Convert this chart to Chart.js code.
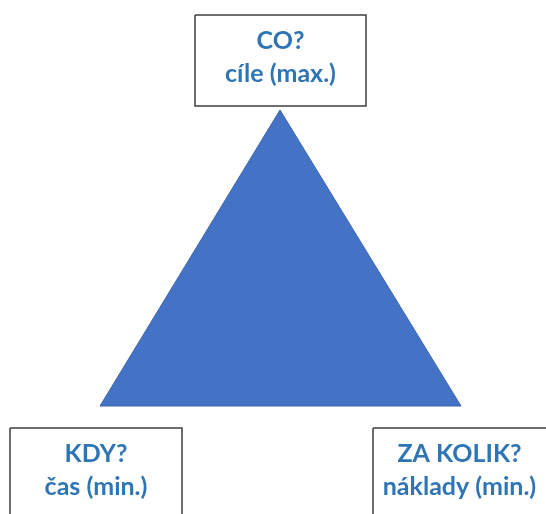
<!DOCTYPE html>
<html>
<head>
<meta charset="utf-8">
<script src="https://cdn.jsdelivr.net/npm/chart.js@4.4.0/dist/chart.umd.min.js"></script>
<style>
  body { margin: 0; background: #fff; }
  #wrap { width: 546px; height: 514px; }
</style>
</head>
<body>
<div id="wrap"><canvas id="trojimenik" width="546" height="514"></canvas></div>
<script>
// projektový trojúhelník - souřadnice v "prostoru" diagramu (0..546 x 0..514)
var triangleX = [100, 280, 461];
var triangleY = [406, 110, 406];

var boxTitles = ["CO?", "KDY?", "ZA KOLIK?"];
var boxSubtitles = ["cíle (max.)", "čas (min.)", "náklady (min.)"];
// rohy boxů: [levá, horní, pravá, dolní]
var boxLeft = [195, 10, 373];
var boxTop = [15, 428, 428];
var boxRight = [366, 182, 560];
var boxBottom = [106, 530, 530];

var textColor = "#2E75B6";

function closedPath(xs, ys) {
    var pts = xs.map(function (x, i) { return { x: x, y: ys[i] }; });
    pts.push(pts[0]);
    return pts;
}

var datasets = [{
    label: "trojúhelník",
    data: closedPath(triangleX, triangleY),
    backgroundColor: "#4472C4",
    borderColor: "#3A64AE",
    borderWidth: 1,
    fill: "shape",
    pointRadius: 0,
    tension: 0
}];

boxTitles.forEach(function (t, i) {
    datasets.push({
        label: t,
        data: closedPath(
            [boxLeft[i], boxRight[i], boxRight[i], boxLeft[i]],
            [boxTop[i], boxTop[i], boxBottom[i], boxBottom[i]]
        ),
        backgroundColor: "#ffffff",
        borderColor: "#3f3f3f",
        borderWidth: 1.5,
        fill: "shape",
        pointRadius: 0,
        tension: 0
    });
});

// popisky v boxech
var boxTexts = {
    id: "boxTexts",
    afterDatasetsDraw: function (chart) {
        var ctx = chart.ctx;
        var sx = chart.scales.x, sy = chart.scales.y;
        ctx.save();
        ctx.fillStyle = textColor;
        ctx.textAlign = "center";
        ctx.textBaseline = "middle";
        ctx.font = "bold 25px Lato";
        boxTitles.forEach(function (t, i) {
            var cx = sx.getPixelForValue((boxLeft[i] + Math.min(boxRight[i], 546)) / 2);
            var top = sy.getPixelForValue(boxTop[i]);
            ctx.fillText(t, cx, top + 26);
            ctx.fillText(boxSubtitles[i], cx, top + 59);
        });
        ctx.restore();
    }
};

var ctx = document.getElementById("trojimenik").getContext("2d");
var myChart = new Chart(ctx, {
    type: "line",
    data: { datasets: datasets },
    options: {
        responsive: false,
        animation: false,
        layout: { padding: 0 },
        scales: {
            x: { type: "linear", min: 0, max: 546, display: false },
            y: { type: "linear", min: 0, max: 514, reverse: true, display: false }
        },
        plugins: {
            legend: { display: false },
            tooltip: { enabled: false }
        }
    },
    plugins: [boxTexts]
});
</script>
</body>
</html>
